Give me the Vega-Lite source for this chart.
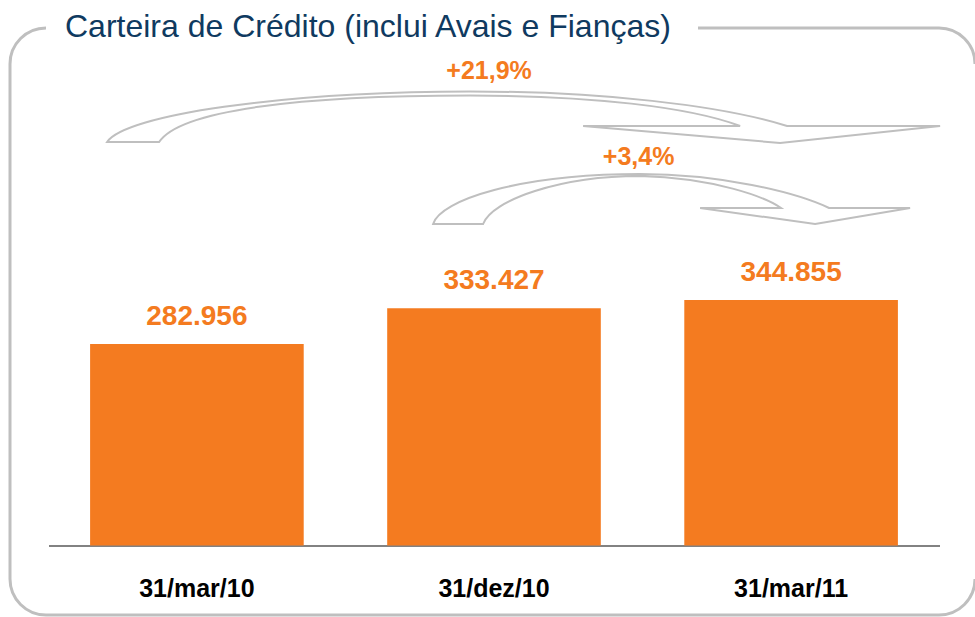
{
  "$schema": "https://vega.github.io/schema/vega-lite/v6.json",
  "width": 965,
  "height": 587,
  "autosize": {"type": "none"},
  "padding": {"left": 10, "top": 28, "right": 0, "bottom": 2},
  "background": "white",
  "title": {
    "text": "Carteira de Crédito (inclui Avais e Fianças)",
    "anchor": "start",
    "frame": "group",
    "font": "Liberation Sans",
    "fontSize": 32,
    "fontWeight": "normal",
    "color": "#0F3A60",
    "baseline": "alphabetic",
    "offset": 0,
    "dx": 55,
    "dy": 40.5
  },
  "datasets": {
    "barras": [
      {"data": "31/mar/10", "valor": 282956},
      {"data": "31/dez/10", "valor": 333427},
      {"data": "31/mar/11", "valor": 344855}
    ],
    "variacoes": [
      {"de": "31/mar/10", "para": "31/mar/11", "variacao": "+21,9%"},
      {"de": "31/dez/10", "para": "31/mar/11", "variacao": "+3,4%"}
    ]
  },
  "layer": [
    {
      "data": {"name": "barras"},
      "mark": {"type": "bar", "color": "#F47B20"},
      "encoding": {
        "x": {"field": "data", "type": "nominal", "title": null, "scale": {"domain": ["31/mar/10", "31/dez/10", "31/mar/11"], "range": [38.5, 929.5], "paddingInner": 0.281, "paddingOuter": 0.14}},
        "y": {"field": "valor", "type": "quantitative", "axis": null, "scale": {"domain": [-97640, 727040], "nice": false, "zero": false}}
      }
    },
    {
      "data": {"name": "barras"},
      "mark": {"type": "text", "dy": -19, "baseline": "alphabetic", "align": "center", "font": "Liberation Sans", "fontSize": 28, "fontWeight": "bold", "color": "#F47B20"},
      "encoding": {
        "x": {"field": "data", "type": "nominal", "title": null, "scale": {"domain": ["31/mar/10", "31/dez/10", "31/mar/11"], "range": [38.5, 929.5], "paddingInner": 0.281, "paddingOuter": 0.14}},
        "y": {"field": "valor", "type": "quantitative", "axis": null, "scale": {"domain": [-97640, 727040], "nice": false, "zero": false}},
        "text": {"field": "valor", "type": "quantitative", "format": ",.0f"}
      }
    },
    {
      "data": {"name": "variacoes"},
      "transform": [{"filter": "datum.variacao === '+21,9%'"}],
      "mark": {"type": "point", "shape": "M -684 -403.5 C -666 -430.5 -511 -453.5 -321 -454 C -191 -454 -71 -440.5 -4 -419.5 L 149 -419.5 L -11 -402.5 L -208 -419.5 L -51 -419.5 C -101 -438.5 -201 -450 -321 -450 C -491 -450 -611 -435.5 -632 -403.5 Z", "size": 4, "filled": false, "stroke": "#BFBFBF", "strokeWidth": 2, "opacity": 1},
      "encoding": {
        "x": {"field": "para", "type": "nominal", "title": null, "scale": {"domain": ["31/mar/10", "31/dez/10", "31/mar/11"], "range": [38.5, 929.5], "paddingInner": 0.281, "paddingOuter": 0.14}},
        "y": {"datum": 0, "type": "quantitative", "axis": null, "scale": {"domain": [-97640, 727040], "nice": false, "zero": false}}
      }
    },
    {
      "data": {"name": "variacoes"},
      "transform": [{"filter": "datum.variacao === '+3,4%'"}],
      "mark": {"type": "point", "shape": "M -358 -321.5 C -351 -345.5 -271 -371.5 -151 -371.5 C -71 -371.5 4 -353.5 38 -337.5 L 119 -337.5 L 24 -321.5 L -91 -337.5 L -10 -337.5 C -26 -348.5 -76 -367.5 -151 -369.5 C -231 -369.5 -299 -345.5 -308 -321.5 Z", "size": 4, "filled": false, "stroke": "#BFBFBF", "strokeWidth": 2, "opacity": 1},
      "encoding": {
        "x": {"field": "para", "type": "nominal", "title": null, "scale": {"domain": ["31/mar/10", "31/dez/10", "31/mar/11"], "range": [38.5, 929.5], "paddingInner": 0.281, "paddingOuter": 0.14}},
        "y": {"datum": 0, "type": "quantitative", "axis": null, "scale": {"domain": [-97640, 727040], "nice": false, "zero": false}}
      }
    },
    {
      "data": {"name": "variacoes"},
      "transform": [{"filter": "datum.variacao === '+21,9%'"}],
      "mark": {"type": "text", "dx": -302, "dy": -467, "baseline": "alphabetic", "align": "center", "font": "Liberation Sans", "fontSize": 25, "fontWeight": "bold", "color": "#F47B20"},
      "encoding": {
        "x": {"field": "para", "type": "nominal", "title": null, "scale": {"domain": ["31/mar/10", "31/dez/10", "31/mar/11"], "range": [38.5, 929.5], "paddingInner": 0.281, "paddingOuter": 0.14}},
        "y": {"datum": 0, "type": "quantitative", "axis": null, "scale": {"domain": [-97640, 727040], "nice": false, "zero": false}},
        "text": {"field": "variacao", "type": "nominal"}
      }
    },
    {
      "data": {"name": "variacoes"},
      "transform": [{"filter": "datum.variacao === '+3,4%'"}],
      "mark": {"type": "text", "dx": -152.5, "dy": -380.5, "baseline": "alphabetic", "align": "center", "font": "Liberation Sans", "fontSize": 25, "fontWeight": "bold", "color": "#F47B20"},
      "encoding": {
        "x": {"field": "para", "type": "nominal", "title": null, "scale": {"domain": ["31/mar/10", "31/dez/10", "31/mar/11"], "range": [38.5, 929.5], "paddingInner": 0.281, "paddingOuter": 0.14}},
        "y": {"datum": 0, "type": "quantitative", "axis": null, "scale": {"domain": [-97640, 727040], "nice": false, "zero": false}},
        "text": {"field": "variacao", "type": "nominal"}
      }
    }
  ],
  "config": {
    "font": "Liberation Sans",
    "locale": {"number": {"decimal": ",", "thousands": ".", "grouping": [3], "currency": ["R$ ", ""]}},
    "view": {"stroke": "#BFBFBF", "strokeWidth": 3, "cornerRadius": 36, "strokeDash": [0, 652, 297.5, 515, 5000, 0]},
    "axisX": {
      "offset": -69.5,
      "domainColor": "#595959",
      "domainWidth": 1.5,
      "ticks": false,
      "tickSize": 0,
      "grid": false,
      "labelFont": "Liberation Sans",
      "labelFontSize": 25,
      "labelFontWeight": "bold",
      "labelColor": "#000000",
      "labelAngle": 0,
      "labelPadding": 50.5,
      "labelBaseline": "alphabetic"
    }
  }
}
